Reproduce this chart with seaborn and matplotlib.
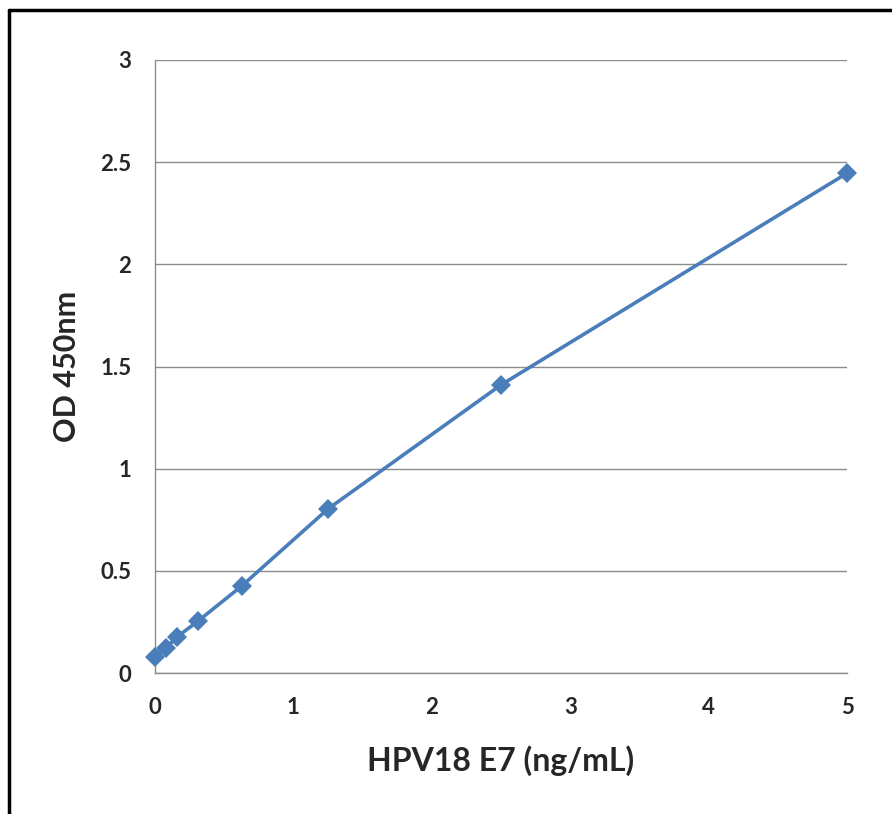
import numpy as np
import pandas as pd
import seaborn as sns
import matplotlib.pyplot as plt
from matplotlib.lines import Line2D

# HPV18 E7 standard curve
conc = [0, 0.078, 0.156, 0.3125, 0.625, 1.25, 2.5, 5]
od450 = [0.078, 0.122, 0.175, 0.255, 0.425, 0.803, 1.41, 2.446]
x_ticks = [0, 1, 2, 3, 4, 5]
y_ticks = [0, 0.5, 1, 1.5, 2, 2.5, 3]
y_tick_labels = ['0', '0.5', '1', '1.5', '2', '2.5', '3']

df = pd.DataFrame({'conc': conc, 'od': od450})

sns.set_style('white')
plt.rcParams['font.family'] = ['Lato', 'DejaVu Sans']

fig = plt.figure(figsize=(8.92, 8.14), dpi=100)
ax = fig.add_axes([155 / 892, 1 - 673 / 814, (847 - 155) / 892, (673 - 60) / 814])

blue = '#4a7ebb'
sns.lineplot(data=df, x='conc', y='od', ax=ax, color=blue, linewidth=2.6,
             marker='D', markersize=10.5, markeredgewidth=0, markerfacecolor=blue,
             clip_on=False, zorder=3)

ax.set_xlim(0, 5)
ax.set_ylim(0, 3)
ax.set_xticks(x_ticks)
ax.set_xticklabels([str(t) for t in x_ticks])
ax.set_yticks(y_ticks)
ax.set_yticklabels(y_tick_labels)

grid_c = '#8c8c8c'
ax.yaxis.grid(True, color=grid_c, linewidth=1)
ax.xaxis.grid(False)
for side in ['top', 'right']:
    ax.spines[side].set_visible(False)
for side in ['left', 'bottom']:
    ax.spines[side].set_color(grid_c)
    ax.spines[side].set_linewidth(1)

ax.tick_params(axis='both', direction='out', width=1, color=grid_c, labelsize=16)
ax.tick_params(axis='y', length=6, pad=11)
ax.tick_params(axis='x', length=7, pad=10)
for lbl in ax.get_xticklabels() + ax.get_yticklabels():
    lbl.set_fontweight('bold')

ax.set_xlabel('HPV18 E7 (ng/mL)', fontsize=23, fontweight='bold', labelpad=20)
ax.set_ylabel('OD 450nm', fontsize=22, fontweight='bold', labelpad=14)

# outer frame (top and left edges visible in the crop)
fig.add_artist(Line2D([9 / 892, 9 / 892], [0, 1 - 10 / 814], transform=fig.transFigure,
                      color='black', linewidth=2.5))
fig.add_artist(Line2D([9 / 892, 1], [1 - 10 / 814, 1 - 10 / 814], transform=fig.transFigure,
                      color='black', linewidth=2.5))

fig.savefig('out.png', dpi=100)
